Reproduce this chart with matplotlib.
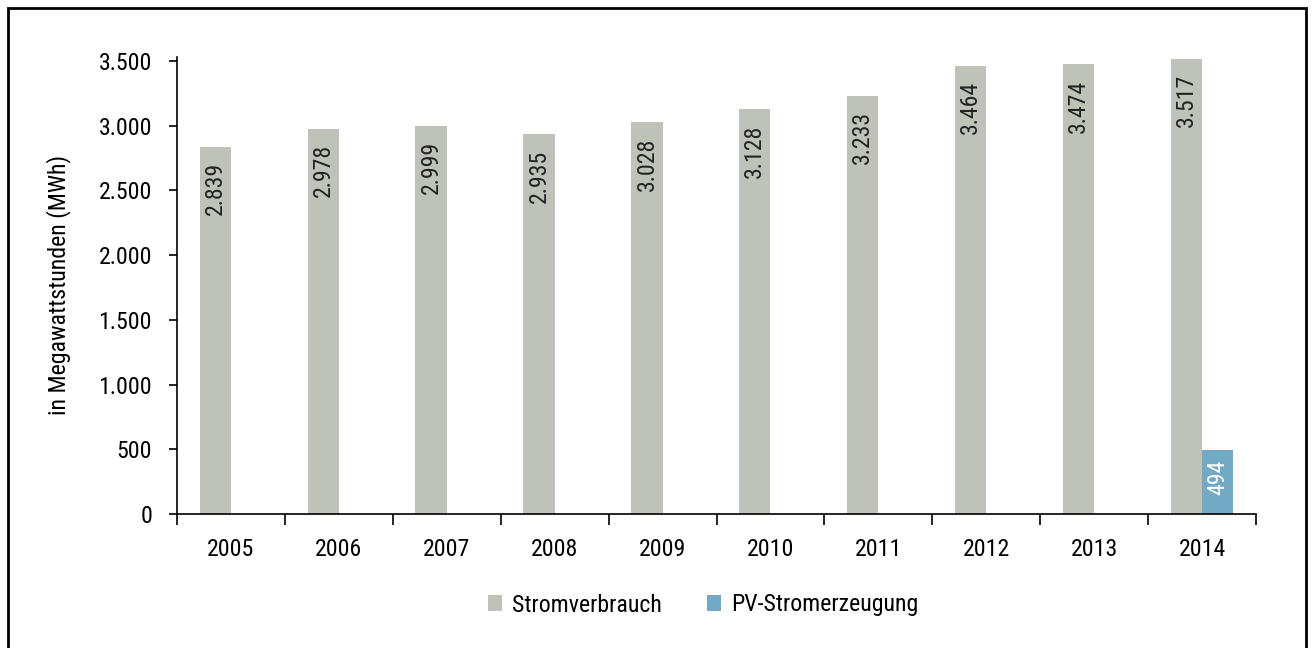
import matplotlib
matplotlib.use("Agg")
import matplotlib.pyplot as plt
from matplotlib.patches import Rectangle
from matplotlib import font_manager
import numpy as np

years = ["2005", "2006", "2007", "2008", "2009", "2010", "2011", "2012", "2013", "2014"]
stromverbrauch = [2839, 2978, 2999, 2935, 3028, 3128, 3233, 3464, 3474, 3517]
pv_stromerzeugung = [0, 0, 0, 0, 0, 0, 0, 0, 0, 494]
yticks = [0, 500, 1000, 1500, 2000, 2500, 3000, 3500]

entries = font_manager.fontManager.ttflist
names = {f.name for f in entries}
fam = "DejaVu Sans"
stretch = "condensed"
for cand in ["Liberation Sans Narrow", "Roboto Condensed", "Open Sans Condensed", "DejaVu Sans Condensed"]:
    if cand in names:
        fam = cand
        break
plt.rcParams['font.family'] = [fam, 'DejaVu Sans']
plt.rcParams['font.stretch'] = stretch

def fmt(v):
    return f"{v:,}".replace(",", ".")

gray = "#BFC2B9"
blue = "#72AAC6"
FS = 17.2

fig = plt.figure(figsize=(13.14, 6.48), dpi=100)
ytop = 3540
ppu = (514 - 61) / 3500
top_px = 514 - ytop * ppu
ax = fig.add_axes([177/1314, 1-514/648, (1256-177)/1314, (514-top_px)/648])

x = np.arange(len(years))
w = 0.29
ax.bar(x - w/2, stromverbrauch, width=w, color=gray, label="Stromverbrauch")
pv_idx = [i for i, v in enumerate(pv_stromerzeugung) if v > 0]
ax.bar(x[pv_idx] + w/2, [pv_stromerzeugung[i] for i in pv_idx], width=w, color=blue, label="PV-Stromerzeugung")

for i, v in enumerate(stromverbrauch):
    ax.annotate(fmt(v), (x[i] - w/2, v), xytext=(0, -11), textcoords="offset points",
                rotation=90, ha="center", va="top", fontsize=FS, color="#222222",
                annotation_clip=False)
for i in pv_idx:
    v = pv_stromerzeugung[i]
    ax.annotate(fmt(v), (x[i] + w/2, v), xytext=(0, -7), textcoords="offset points",
                rotation=90, ha="center", va="top", fontsize=FS, color="white",
                annotation_clip=False)

ax.set_xlim(-0.5, len(years) - 0.5)
ax.set_ylim(0, ytop)
ax.set_yticks(yticks)
ax.set_yticklabels([fmt(t) for t in yticks], fontsize=FS)
ax.set_xticks(x)
ax.set_xticklabels(years, fontsize=FS)
ax.set_xticks(np.arange(-0.5, len(years)), minor=True)
ax.tick_params(axis="x", which="major", length=0, pad=17)
ax.tick_params(axis="x", which="minor", length=8, width=1.2, direction="out")
ax.tick_params(axis="y", length=6, width=1.2, direction="out", pad=12)
for s in ["top", "right"]:
    ax.spines[s].set_visible(False)
for s in ["left", "bottom"]:
    ax.spines[s].set_linewidth(1.2)
ax.spines["left"].set_bounds(0, 3530)
ax.set_ylabel("in Megawattstunden (MWh)", fontsize=FS, labelpad=20)

fig.legend(loc="center", bbox_to_anchor=(703/1314, 1-605/648), ncol=2, frameon=False,
           fontsize=FS, handlelength=0.6, handleheight=0.6, handletextpad=0.4, columnspacing=1.9)

fig.add_artist(Rectangle((8/1314, -0.05), (1306-8)/1314, 1-8/648+0.05,
                         transform=fig.transFigure, fill=False, edgecolor="black", linewidth=2))

fig.savefig("out.png", dpi=100)
